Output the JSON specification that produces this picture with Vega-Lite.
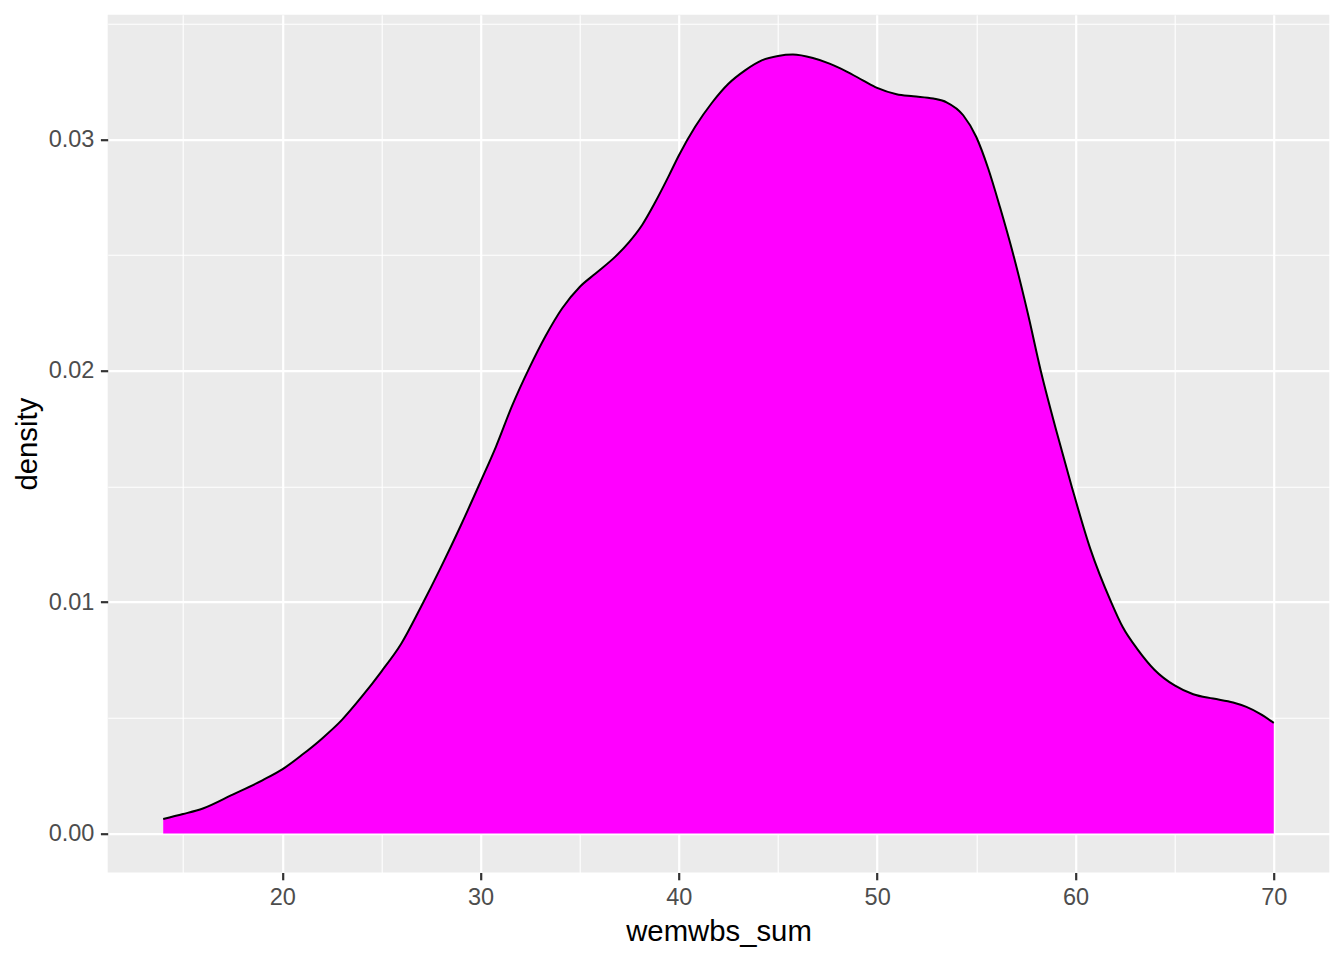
{
  "$schema": "https://vega.github.io/schema/vega-lite/v6.json",
  "width": 1221.6,
  "height": 857.8,
  "autosize": {"type": "none"},
  "padding": {"left": 107.7, "top": 14.7, "right": 14.7, "bottom": 87.5},
  "background": "white",
  "config": {
    "view": {"fill": "#EBEBEB", "stroke": null},
    "font": "Liberation Sans"
  },
  "data": {
    "values": [
      {"wemwbs_sum": 14.0, "density": 0.00063},
      {"wemwbs_sum": 15.0, "density": 0.00084},
      {"wemwbs_sum": 16.0, "density": 0.00108},
      {"wemwbs_sum": 17.5, "density": 0.00168},
      {"wemwbs_sum": 19.0, "density": 0.0023},
      {"wemwbs_sum": 20.0, "density": 0.00277},
      {"wemwbs_sum": 21.0, "density": 0.0034},
      {"wemwbs_sum": 22.0, "density": 0.0041},
      {"wemwbs_sum": 23.0, "density": 0.0049},
      {"wemwbs_sum": 24.0, "density": 0.0059},
      {"wemwbs_sum": 25.0, "density": 0.0070},
      {"wemwbs_sum": 26.0, "density": 0.0082},
      {"wemwbs_sum": 27.0, "density": 0.0098},
      {"wemwbs_sum": 28.0, "density": 0.0115},
      {"wemwbs_sum": 29.0, "density": 0.0133},
      {"wemwbs_sum": 30.0, "density": 0.0152},
      {"wemwbs_sum": 30.77, "density": 0.0167},
      {"wemwbs_sum": 31.6, "density": 0.0185},
      {"wemwbs_sum": 32.45, "density": 0.0201},
      {"wemwbs_sum": 33.28, "density": 0.0215},
      {"wemwbs_sum": 34.12, "density": 0.0227},
      {"wemwbs_sum": 35.0, "density": 0.02362},
      {"wemwbs_sum": 35.8, "density": 0.0242},
      {"wemwbs_sum": 36.81, "density": 0.02494},
      {"wemwbs_sum": 37.48, "density": 0.02555},
      {"wemwbs_sum": 38.15, "density": 0.0263},
      {"wemwbs_sum": 38.82, "density": 0.0273},
      {"wemwbs_sum": 39.5, "density": 0.02843},
      {"wemwbs_sum": 40.0, "density": 0.0293},
      {"wemwbs_sum": 40.83, "density": 0.03055},
      {"wemwbs_sum": 41.67, "density": 0.03158},
      {"wemwbs_sum": 42.5, "density": 0.0324},
      {"wemwbs_sum": 43.34, "density": 0.03298},
      {"wemwbs_sum": 44.18, "density": 0.03341},
      {"wemwbs_sum": 45.0, "density": 0.0336},
      {"wemwbs_sum": 45.75, "density": 0.03366},
      {"wemwbs_sum": 46.76, "density": 0.03351},
      {"wemwbs_sum": 47.6, "density": 0.03327},
      {"wemwbs_sum": 48.44, "density": 0.03294},
      {"wemwbs_sum": 49.28, "density": 0.03255},
      {"wemwbs_sum": 50.0, "density": 0.03222},
      {"wemwbs_sum": 50.98, "density": 0.03195},
      {"wemwbs_sum": 51.82, "density": 0.03186},
      {"wemwbs_sum": 52.83, "density": 0.03176},
      {"wemwbs_sum": 53.5, "density": 0.0316},
      {"wemwbs_sum": 54.34, "density": 0.03104},
      {"wemwbs_sum": 55.0, "density": 0.0301},
      {"wemwbs_sum": 55.6, "density": 0.02874},
      {"wemwbs_sum": 56.2, "density": 0.02705},
      {"wemwbs_sum": 56.87, "density": 0.025},
      {"wemwbs_sum": 57.6, "density": 0.02247},
      {"wemwbs_sum": 58.25, "density": 0.02},
      {"wemwbs_sum": 58.99, "density": 0.01755},
      {"wemwbs_sum": 59.81, "density": 0.015},
      {"wemwbs_sum": 60.75, "density": 0.0123},
      {"wemwbs_sum": 61.8, "density": 0.0100},
      {"wemwbs_sum": 62.39, "density": 0.00891},
      {"wemwbs_sum": 63.14, "density": 0.00795},
      {"wemwbs_sum": 63.98, "density": 0.00708},
      {"wemwbs_sum": 65.0, "density": 0.0064},
      {"wemwbs_sum": 65.94, "density": 0.00602},
      {"wemwbs_sum": 66.94, "density": 0.00583},
      {"wemwbs_sum": 67.95, "density": 0.00566},
      {"wemwbs_sum": 68.62, "density": 0.00547},
      {"wemwbs_sum": 69.29, "density": 0.00518},
      {"wemwbs_sum": 70.0, "density": 0.00478}
    ]
  },
  "encoding": {
    "x": {
      "field": "wemwbs_sum",
      "type": "quantitative",
      "scale": {"domain": [11.2, 72.8], "nice": false, "zero": false},
      "axis": {
        "title": "wemwbs_sum",
        "values": [15, 20, 25, 30, 35, 40, 45, 50, 55, 60, 65, 70],
        "domain": false,
        "grid": true,
        "zindex": 0,
        "gridColor": "white",
        "gridOpacity": 1,
        "gridWidth": {"condition": {"test": "datum.value % 10 != 0", "value": 1.1}, "value": 2.2},
        "tickColor": "#333333",
        "tickWidth": 2.2,
        "tickSize": 7.3,
        "tickOpacity": {"condition": {"test": "datum.value % 10 != 0", "value": 0}, "value": 1},
        "labelExpr": "datum.value % 10 == 0 ? datum.label : ''",
        "labelFontSize": 23.5,
        "labelColor": "#4D4D4D",
        "labelPadding": 6,
        "labelOverlap": false,
        "labelFlush": false,
        "titleFontSize": 29.3,
        "titleColor": "black",
        "titleFontWeight": "normal",
        "titleBaseline": "alphabetic",
        "titleY": 68,
        "titlePadding": 0
      }
    },
    "y": {
      "field": "density",
      "type": "quantitative",
      "scale": {"domain": [-0.001685, 0.035385], "nice": false, "zero": false},
      "axis": {
        "title": "density",
        "values": [0, 0.005, 0.01, 0.015, 0.02, 0.025, 0.03, 0.035],
        "format": ".2f",
        "domain": false,
        "grid": true,
        "zindex": 0,
        "gridColor": "white",
        "gridOpacity": 1,
        "gridWidth": {"condition": {"test": "round(datum.value * 1000) % 10 != 0", "value": 1.1}, "value": 2.2},
        "tickColor": "#333333",
        "tickWidth": 2.2,
        "tickSize": 7.3,
        "tickOpacity": {"condition": {"test": "round(datum.value * 1000) % 10 != 0", "value": 0}, "value": 1},
        "labelExpr": "round(datum.value * 1000) % 10 == 0 ? datum.label : ''",
        "labelFontSize": 23.5,
        "labelColor": "#4D4D4D",
        "labelPadding": 6.5,
        "labelOverlap": false,
        "labelFlush": false,
        "titleFontSize": 29.3,
        "titleColor": "black",
        "titleFontWeight": "normal",
        "titleAngle": 270,
        "titleBaseline": "alphabetic",
        "titleAlign": "center",
        "titleX": -71,
        "titleY": 428.9,
        "titlePadding": 0
      }
    }
  },
  "layer": [
    {
      "mark": {"type": "area", "color": "#FF00FF", "interpolate": "monotone"},
      "encoding": {"y2": {"datum": 0}}
    },
    {
      "mark": {"type": "line", "color": "black", "strokeWidth": 2, "interpolate": "monotone"},
      "encoding": {}
    }
  ]
}
